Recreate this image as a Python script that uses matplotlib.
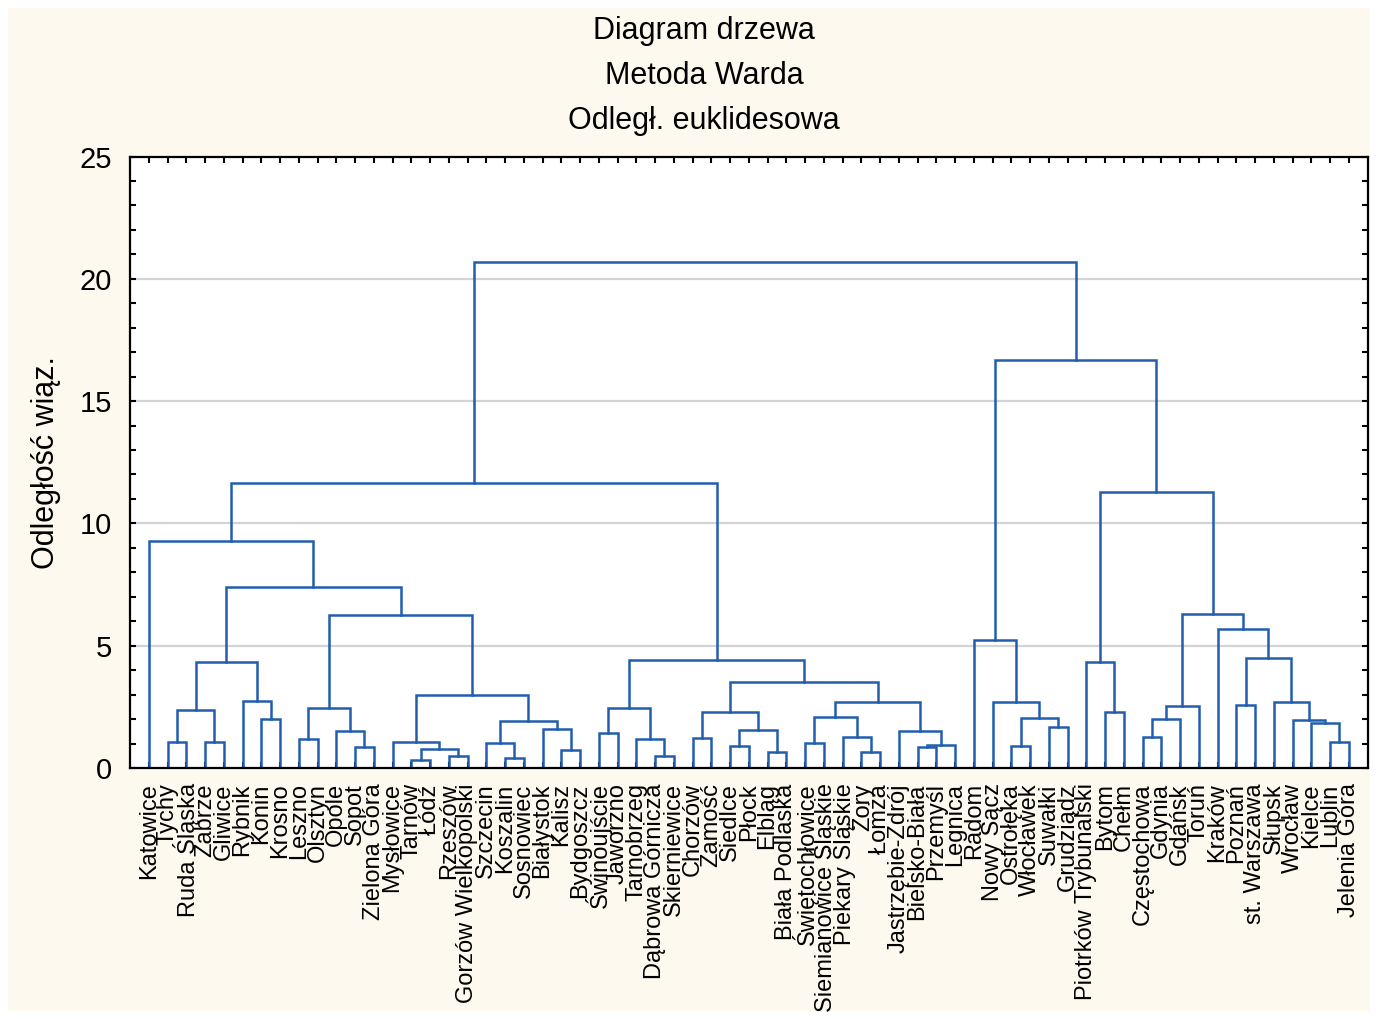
import matplotlib
matplotlib.use('Agg')  # no display here
import matplotlib.pyplot as plt
from matplotlib.patches import Rectangle
from matplotlib.ticker import MultipleLocator

plt.rcParams['font.family'] = ['Liberation Sans', 'DejaVu Sans']

# Leaves, in the order they appear along the x axis
cities = [
    'Katowice', 'Tychy', 'Ruda Śląska', 'Zabrze', 'Gliwice', 'Rybnik', 'Konin',
    'Krosno', 'Leszno', 'Olsztyn', 'Opole', 'Sopot', 'Zielona Góra', 'Mysłowice',
    'Tarnów', 'Łódź', 'Rzeszów', 'Gorzów Wielkopolski', 'Szczecin', 'Koszalin',
    'Sosnowiec', 'Białystok', 'Kalisz', 'Bydgoszcz', 'Świnoujście', 'Jaworzno',
    'Tarnobrzeg', 'Dąbrowa Górnicza', 'Skierniewice', 'Chorzów', 'Zamość',
    'Siedlce', 'Płock', 'Elbląg', 'Biała Podlaska', 'Świętochłowice',
    'Siemianowice Śląskie', 'Piekary Śląskie', 'Żory', 'Łomża',
    'Jastrzębie-Zdrój', 'Bielsko-Biała', 'Przemyśl', 'Legnica', 'Radom',
    'Nowy Sącz', 'Ostrołęka', 'Włocławek', 'Suwałki', 'Grudziądz',
    'Piotrków Trybunalski', 'Bytom', 'Chełm', 'Częstochowa', 'Gdynia', 'Gdańsk',
    'Toruń', 'Kraków', 'Poznań', 'st. Warszawa', 'Słupsk', 'Wrocław', 'Kielce',
    'Lublin', 'Jelenia Góra',
]

# Merges (scipy-linkage style): ids < 65 are leaves, id 65 + k is merge row k
merge_left = [
    1, 3, 65, 6, 5, 67, 8, 11, 10, 71, 14, 16, 75, 13, 19, 18, 22, 21, 80, 78,
    74, 70, 0, 24, 27, 26, 88, 29, 31, 33, 93, 92, 35, 38, 37, 97, 41, 101, 40,
    100, 96, 91, 87, 46, 48, 108, 45, 44, 51, 50, 53, 115, 116, 58, 63, 62, 61,
    60, 118, 57, 117, 114, 112, 107,
]
merge_right = [
    2, 4, 66, 7, 68, 69, 9, 12, 72, 73, 15, 17, 76, 77, 20, 79, 23, 81, 82, 83,
    84, 85, 86, 25, 28, 89, 90, 30, 32, 34, 94, 95, 36, 39, 98, 99, 42, 43, 102,
    103, 104, 105, 106, 47, 49, 109, 110, 111, 52, 113, 54, 55, 56, 59, 64, 119,
    120, 121, 122, 123, 124, 125, 126, 127,
]
merge_height = [
    1.06, 1.06, 2.37, 2.00, 2.74, 4.34, 1.19, 0.85, 1.50, 2.45, 0.33, 0.49,
    0.78, 1.06, 0.42, 1.01, 0.72, 1.61, 1.92, 2.99, 6.26, 7.41, 9.29, 1.43,
    0.49, 1.17, 2.44, 1.24, 0.89, 0.65, 1.55, 2.30, 1.01, 0.65, 1.28, 2.09,
    0.86, 0.94, 1.51, 2.70, 3.52, 4.42, 11.66, 0.90, 1.66, 2.05, 2.70, 5.22,
    2.29, 4.34, 1.28, 1.99, 2.52, 2.56, 1.08, 1.83, 1.95, 2.70, 4.51, 5.70,
    6.30, 11.28, 16.69, 20.70,
]

title_lines = ['Diagram drzewa', 'Metoda Warda', 'Odległ. euklidesowa']
y_label = 'Odległość wiąz.'

LINE_COLOR = '#225DAE'
PANEL_COLOR = '#FDF9EF'


def plot_dendrogram(output_path='out.png'):
    """Draws the Ward tree from the merge lists and saves it."""
    fig = plt.figure(figsize=(13.76, 10.19), dpi=100, facecolor='white')

    # cream panel behind everything, small white margin around it
    fig.patches.append(Rectangle((8 / 1376, 8 / 1019), 1362 / 1376, 1003 / 1019,
                                 transform=fig.transFigure, facecolor=PANEL_COLOR,
                                 edgecolor='none', zorder=-10))

    ax = fig.add_axes([130 / 1376, 1 - 768 / 1019, 1237.5 / 1376, 611.5 / 1019])
    ax.set_zorder(5)
    ax.set_facecolor('white')

    n = len(cities)
    xpos = {i: float(i) for i in range(n)}
    ypos = {i: 0.0 for i in range(n)}
    for k, (a, b, h) in enumerate(zip(merge_left, merge_right, merge_height)):
        xa, xb = xpos[a], xpos[b]
        ax.plot([xa, xa, xb, xb], [ypos[a], h, h, ypos[b]],
                color=LINE_COLOR, lw=1.8, solid_joinstyle='miter', zorder=3)
        xpos[n + k] = (xa + xb) / 2
        ypos[n + k] = h

    ax.set_xlim(-1, n)
    ax.set_ylim(0, 25)

    # light horizontal grid
    for g in [5, 10, 15, 20]:
        ax.axhline(g, color='#D4D4D4', lw=1.6, zorder=1)

    ax.set_xticks(range(n))
    ax.set_xticklabels(cities, rotation=90, fontsize=17, va='top', ha='center')
    ax.yaxis.set_major_locator(MultipleLocator(5))
    ax.yaxis.set_minor_locator(MultipleLocator(1))
    ax.tick_params(axis='x', direction='in', top=True, length=4, width=1.5, pad=11)
    ax.tick_params(axis='y', which='both', direction='in', right=True,
                   length=4, width=1.5, labelsize=21, pad=13)

    for side in ax.spines.values():
        side.set_linewidth(1.6)
        side.set_zorder(4)

    fig.text(46 / 1376, 0.5465, y_label, rotation=90, fontsize=22,
             ha='center', va='center')
    for i, line in enumerate(title_lines):
        fig.text(704 / 1376, 1 - (31 + 45 * i) / 1019, line, fontsize=22,
                 ha='center', va='center')

    fig.savefig(output_path, dpi=100, facecolor=fig.get_facecolor())
    plt.close(fig)
    print(f"Plot saved to {output_path}")


if __name__ == '__main__':
    plot_dendrogram('out.png')
